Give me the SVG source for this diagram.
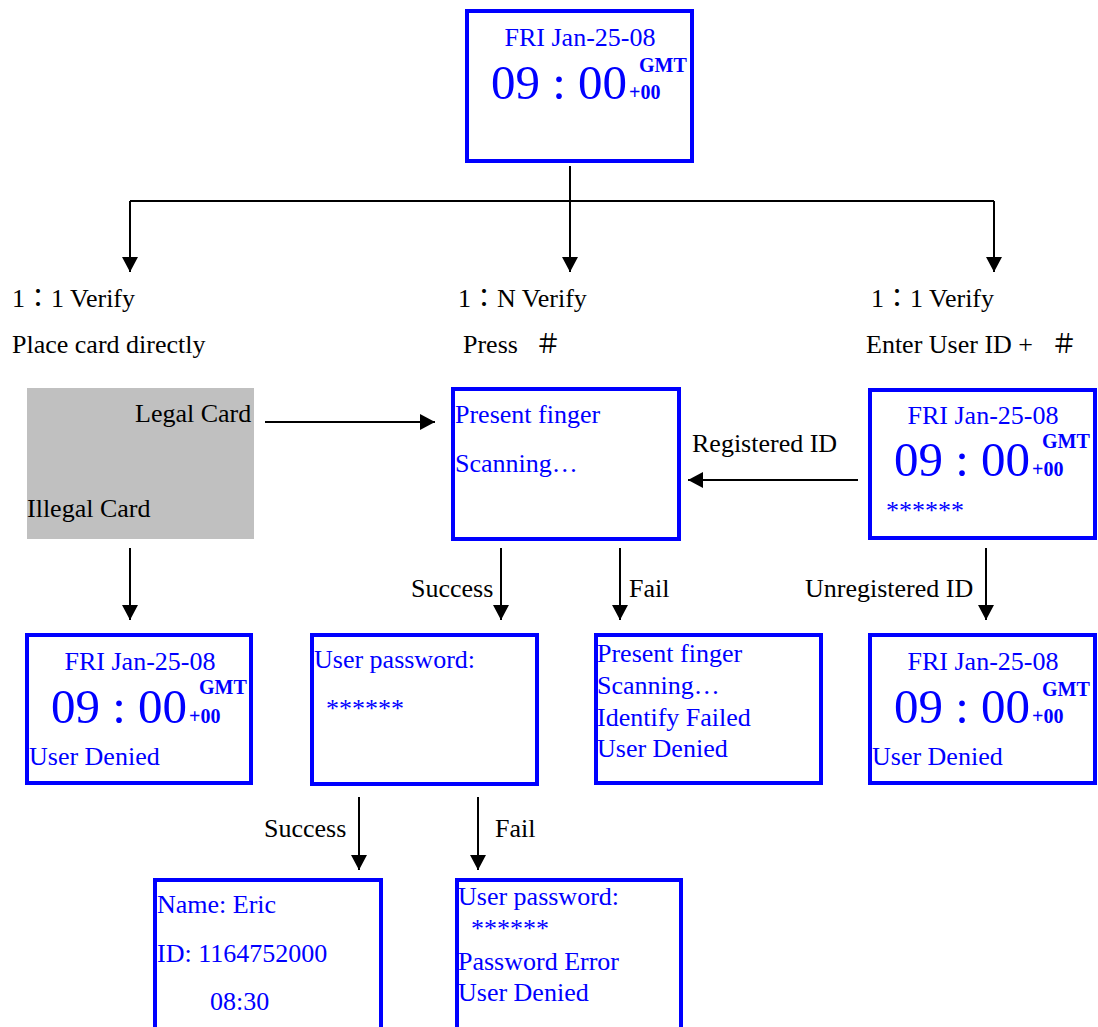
<svg xmlns="http://www.w3.org/2000/svg" width="1098" height="1027" viewBox="0 0 1098 1027">
<defs>
<style>
.box{fill:#fff;stroke:#0000FF;stroke-width:4}
.t{font-family:"Liberation Serif","Noto Sans CJK TC",serif;font-size:26px;fill:#000}
.b{font-family:"Liberation Serif","Noto Sans CJK TC",serif;font-size:26px;fill:#0000FF}
.big{font-family:"Liberation Serif",serif;font-size:49px;fill:#0000FF}
.sm{font-family:"Liberation Serif",serif;font-size:20px;font-weight:bold;fill:#0000FF}
.cj{font-family:"Noto Sans CJK TC","Noto Sans CJK JP",sans-serif}
.ln{fill:none;stroke:#000;stroke-width:2}
.ar{fill:none;stroke:#000;stroke-width:2;marker-end:url(#ah)}
</style>
<marker id="ah" markerUnits="userSpaceOnUse" markerWidth="16" markerHeight="16" refX="15" refY="8" orient="auto">
<path d="M0,0 L15,8 L0,16 z" fill="#000"/>
</marker>
</defs>
<rect width="1098" height="1027" fill="#fff"/>

<g id="top">
<rect class="box" x="467" y="11" width="225" height="150"/>
<text class="b" x="580" y="46" text-anchor="middle">FRI Jan-25-08</text>
<text class="big" x="491" y="99">09 : 00</text>
<text class="sm" x="639" y="72">GMT</text>
<text class="sm" x="629" y="99">+00</text>
</g>

<g id="labels">
<text class="t" x="12" y="307">1<tspan class="cj">：</tspan>1 Verify</text>
<text class="t" x="12" y="353">Place card directly</text>
<text class="t" x="458" y="307">1<tspan class="cj">：</tspan>N Verify</text>
<text class="t" x="463" y="353">Press<tspan x="535">＃</tspan></text>
<text class="t" x="871" y="307">1<tspan class="cj">：</tspan>1 Verify</text>
<text class="t" x="866" y="353">Enter User ID +<tspan x="1051">＃</tspan></text>
</g>

<g id="card">
<rect x="27" y="388" width="227" height="151" fill="#C0C0C0"/>
<text class="t" x="135" y="422">Legal Card</text>
<text class="t" x="27" y="517">Illegal Card</text>
</g>

<g id="scan">
<rect class="box" x="453" y="389" width="226" height="150"/>
<text class="b" x="455" y="423">Present finger</text>
<text class="b" x="455" y="472">Scanning…</text>
</g>

<g id="userid">
<rect class="box" x="870" y="390" width="225" height="148"/>
<text class="b" x="983" y="424" text-anchor="middle">FRI Jan-25-08</text>
<text class="big" x="894" y="476">09 : 00</text>
<text class="sm" x="1042" y="448">GMT</text>
<text class="sm" x="1032" y="476">+00</text>
<text class="b" x="886" y="519">******</text>
</g>

<g id="denied-card">
<rect class="box" x="27" y="635" width="224" height="148"/>
<text class="b" x="140" y="670" text-anchor="middle">FRI Jan-25-08</text>
<text class="big" x="51" y="723">09 : 00</text>
<text class="sm" x="199" y="694">GMT</text>
<text class="sm" x="189" y="723">+00</text>
<text class="b" x="29" y="765">User Denied</text>
</g>

<g id="password">
<rect class="box" x="312" y="635" width="225" height="149"/>
<text class="b" x="314" y="668">User password:</text>
<text class="b" x="326" y="717">******</text>
</g>

<g id="fail-finger">
<rect class="box" x="596" y="635" width="225" height="148"/>
<text class="b" x="597" y="662">Present finger</text>
<text class="b" x="597" y="694">Scanning…</text>
<text class="b" x="597" y="726">Identify Failed</text>
<text class="b" x="597" y="757">User Denied</text>
</g>

<g id="denied-id">
<rect class="box" x="870" y="635" width="225" height="148"/>
<text class="b" x="983" y="670" text-anchor="middle">FRI Jan-25-08</text>
<text class="big" x="894" y="723">09 : 00</text>
<text class="sm" x="1042" y="696">GMT</text>
<text class="sm" x="1032" y="723">+00</text>
<text class="b" x="872" y="765">User Denied</text>
</g>

<g id="welcome">
<rect class="box" x="155" y="880" width="226" height="160"/>
<text class="b" x="157" y="913">Name: Eric</text>
<text class="b" x="157" y="962">ID: 1164752000</text>
<text class="b" x="210" y="1010">08:30</text>
</g>

<g id="pw-error">
<rect class="box" x="457" y="880" width="224" height="160"/>
<text class="b" x="458" y="905">User password:</text>
<text class="b" x="471" y="937">******</text>
<text class="b" x="458" y="970">Password Error</text>
<text class="b" x="458" y="1001">User Denied</text>
</g>

<g id="connectors">
<path class="ln" d="M570,166 V201"/>
<path class="ln" d="M130,201 H994"/>
<path class="ar" d="M130,201 V272"/>
<path class="ar" d="M570,201 V272"/>
<path class="ar" d="M994,201 V272"/>
<path class="ar" d="M265,422 H435"/>
<path class="ar" d="M858,480 H688"/>
<path class="ar" d="M130,548 V620"/>
<path class="ar" d="M501,548 V620"/>
<path class="ar" d="M620,548 V620"/>
<path class="ar" d="M986,548 V620"/>
<path class="ar" d="M359,797 V870"/>
<path class="ar" d="M478,797 V870"/>
<text class="t" x="692" y="452">Registered ID</text>
<text class="t" x="411" y="597">Success</text>
<text class="t" x="629" y="597">Fail</text>
<text class="t" x="805" y="597">Unregistered ID</text>
<text class="t" x="264" y="837">Success</text>
<text class="t" x="495" y="837">Fail</text>
</g>
</svg>
